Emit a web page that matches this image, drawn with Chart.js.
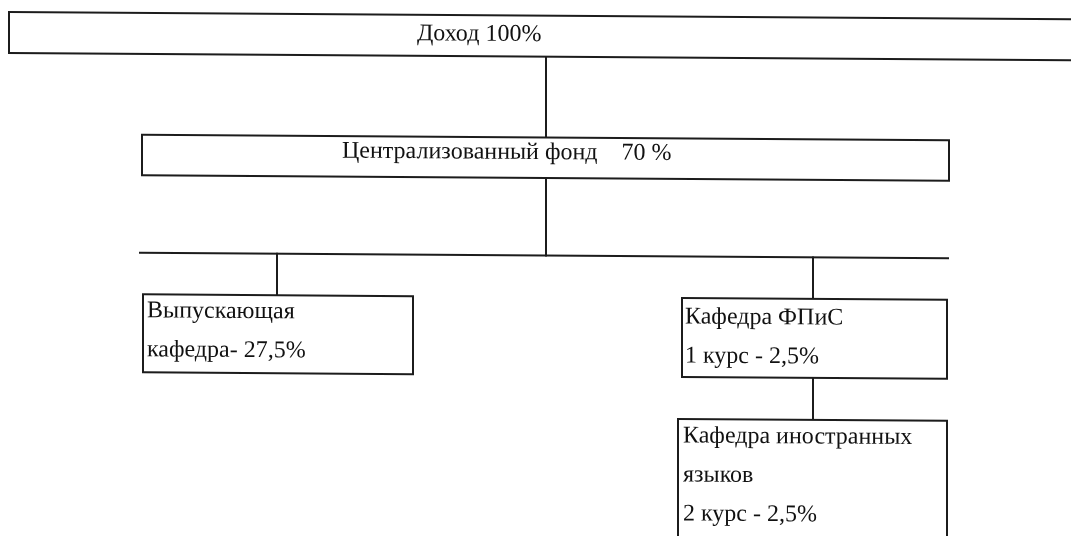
<!DOCTYPE html>
<html>
<head>
<meta charset="utf-8">
<script src="https://cdn.jsdelivr.net/npm/chart.js@4/dist/chart.umd.min.js"></script>
<style>
  html, body { margin: 0; padding: 0; background: #ffffff; }
  #wrap { width: 1071px; height: 536px; position: relative; }
  .preload { font-family: "Liberation Serif"; font-size: 24px; position: absolute; left: -9999px; top: 0; }
</style>
</head>
<body>
<span class="preload">Доход 100% Кафедра</span>
<div id="wrap"><canvas id="c" width="1071" height="536"></canvas></div>
<script>
// ---- Diagram data (nodes of the income distribution scheme) ----
const nodeLabels = [
  ["Доход 100%"],
  ["Централизованный фонд    70 %"],
  ["Выпускающая", "кафедра- 27,5%"],
  ["Кафедра ФПиС", "1 курс - 2,5%"],
  ["Кафедра иностранных", "языков", "2 курс - 2,5%"]
];
// node box extents in diagram units
const nodeX0 = [9, 142, 143, 682, 678];
const nodeX1 = [1080, 949, 413, 947, 947];
const nodeY0 = [15.5, 137.5, 297, 297, 418];
const nodeY1 = [56.5, 178, 375, 376, 560];
// text anchor of first line per node
const textX = [417, 342, 147, 685, 683];
const textY = [41, 159, 320, 322.5, 441.5];
// connectors (from -> to)
const connX0 = [546, 546, 140, 277, 813, 813];
const connY0 = [56.5, 178, 255.5, 255.5, 255.5, 376];
const connX1 = [546, 546, 948, 277, 813, 813];
const connY1 = [137.5, 255.5, 255.5, 297, 297, 418];

const LINE_GAP = 39;
const SKEW = 0.0068;   // slight tilt of the scanned page
const INK = '#1c1c1c';
const FONT = '24px "Liberation Serif", "Times New Roman", serif';

const diagramPlugin = {
  id: 'diagram',
  afterDatasetsDraw(chart) {
    const ctx = chart.ctx;
    const xs = chart.scales.x, ys = chart.scales.y;
    const px = v => xs.getPixelForValue(v);
    const py = v => ys.getPixelForValue(v);
    const cx = px(536);
    ctx.save();
    ctx.transform(1, SKEW, 0, 1, 0, -SKEW * cx);
    ctx.strokeStyle = INK;
    ctx.lineWidth = 2;
    ctx.lineCap = 'square';
    for (let i = 0; i < connX0.length; i++) {
      ctx.beginPath();
      ctx.moveTo(px(connX0[i]), py(connY0[i]));
      ctx.lineTo(px(connX1[i]), py(connY1[i]));
      ctx.stroke();
    }
    for (let i = 0; i < nodeLabels.length; i++) {
      const x0 = px(nodeX0[i]), x1 = px(nodeX1[i]);
      const y0 = py(nodeY0[i]), y1 = py(nodeY1[i]);
      ctx.fillStyle = '#ffffff';
      ctx.fillRect(x0, y0, x1 - x0, y1 - y0);
      ctx.strokeRect(x0, y0, x1 - x0, y1 - y0);
    }
    ctx.fillStyle = '#111111';
    ctx.font = FONT;
    ctx.textAlign = 'left';
    ctx.textBaseline = 'alphabetic';
    for (let i = 0; i < nodeLabels.length; i++) {
      nodeLabels[i].forEach((line, k) => {
        ctx.fillText(line, px(textX[i]), py(textY[i] + k * LINE_GAP));
      });
    }
    ctx.restore();
  }
};

function build() {
  new Chart(document.getElementById('c'), {
    type: 'scatter',
    data: { datasets: [{ data: [], pointRadius: 0 }] },
    options: {
      responsive: false,
      animation: false,
      layout: { padding: 0 },
      plugins: { legend: { display: false }, tooltip: { enabled: false } },
      scales: {
        x: { type: 'linear', min: 0, max: 1071, display: false },
        y: { type: 'linear', min: 0, max: 536, reverse: true, display: false }
      }
    },
    plugins: [diagramPlugin]
  });
}

if (document.fonts && document.fonts.load) {
  document.fonts.load(FONT, 'Доход 100%').then(build, build);
} else {
  build();
}
</script>
</body>
</html>
